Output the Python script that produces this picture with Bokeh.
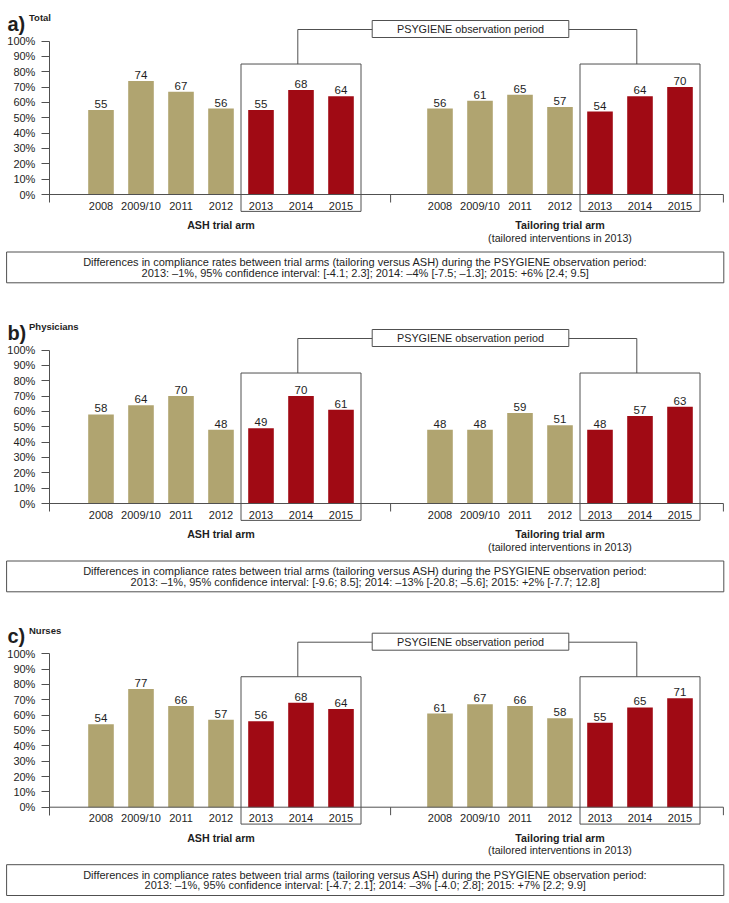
from bokeh.plotting import figure
from bokeh.models import Range1d, LinearAxis, FixedTicker, PrintfTickFormatter, ColumnDataSource
from bokeh.layouts import column
from bokeh.embed import file_html
from bokeh.resources import INLINE
from bokeh.core.properties import value

# ---------------- data ----------------
years = ["2008", "2009/10", "2011", "2012", "2013", "2014", "2015"]
obs_period = [False, False, False, False, True, True, True]

panel_letters = ["a)", "b)", "c)"]
panel_titles = ["Total", "Physicians", "Nurses"]

ash_total = [55, 74, 67, 56, 55, 68, 64]
tail_total = [56, 61, 65, 57, 54, 64, 70]
ash_phys = [58, 64, 70, 48, 49, 70, 61]
tail_phys = [48, 48, 59, 51, 48, 57, 63]
ash_nurse = [54, 77, 66, 57, 56, 68, 64]
tail_nurse = [61, 67, 66, 58, 55, 65, 71]

y_ticks = [0, 10, 20, 30, 40, 50, 60, 70, 80, 90, 100]

arm_labels = ["ASH trial arm", "Tailoring trial arm"]
arm_note = "(tailored interventions in 2013)"
obs_label = "PSYGIENE observation period"
diff_head = ("Differences in compliance rates between trial arms (tailoring versus ASH) "
             "during the PSYGIENE observation period:")
diff_total = "2013: \u20131%, 95% confidence interval: [-4.1; 2.3]; 2014: \u20134% [-7.5; \u20131.3]; 2015: +6% [2.4; 9.5]"
diff_phys = "2013: \u20131%, 95% confidence interval: [-9.6; 8.5]; 2014: \u201313% [-20.8; \u20135.6]; 2015: +2% [-7.7; 12.8]"
diff_nurse = "2013: \u20131%, 95% confidence interval: [-4.7; 2.1]; 2014: \u20133% [-4.0; 2.8]; 2015: +7% [2.2; 9.9]"

# ---------------- style / layout ----------------
FONT = "Liberation Sans"
TAN = "#B0A470"
RED = "#A00A14"
LINE = "#505050"
TXT = "#1e1e1e"
S = 1.535            # pixels per percent point
ARM_OFFSET = 8.475   # x shift of second arm (category units)
Y_AXIS_X = -1.29
MID_TICK_X = 7.24
RIGHT_END_X = 15.56
BOX_L, BOX_R = -2.36, 15.57
W = 729


def d(px):
    return px / S


def make_panel(letter, title, ash, tail, diff2, h, z):
    p = figure(width=W, height=h, x_range=Range1d(-2.5125, 15.7125),
               y_range=Range1d(-(h - z) / S, z / S),
               output_backend="svg", toolbar_location=None,
               x_axis_type=None, y_axis_type=None, min_border=0)
    p.outline_line_color = None
    p.background_fill_color = "white"

    xs = [i for i in range(len(years))] + [i + ARM_OFFSET for i in range(len(years))]
    tops = list(ash) + list(tail)
    cols = [RED if o else TAN for o in obs_period] * 2
    src = ColumnDataSource(dict(x=xs, top=tops, color=cols,
                                label=[str(v) for v in tops], year=years * 2))

    # observation-period boxes
    for off in (0, ARM_OFFSET):
        p.quad(left=3.5 + off, right=6.5 + off, top=85, bottom=-11,
               fill_color=None, line_color=LINE, line_width=1)

    p.vbar(x="x", top="top", bottom=0, width=0.64, fill_color="color",
           line_color=None, source=src)
    p.text(x="x", y="top", text="label", source=src, text_align="center",
           text_baseline="alphabetic", y_offset=-6, text_font_size="11.5px",
           text_font=value(FONT), text_color=TXT)
    p.text(x="x", y=0, text="year", source=src, text_align="center",
           text_baseline="middle", y_offset=11, text_font_size="11px",
           text_font=value(FONT), text_color=TXT)

    # x axis line with ticks
    p.segment(x0=[Y_AXIS_X, MID_TICK_X, RIGHT_END_X], y0=[0, 0, 0],
              x1=[RIGHT_END_X, MID_TICK_X, RIGHT_END_X], y1=[0, -d(8), -d(8)],
              line_color=LINE, line_width=1)

    # y axis
    ax = LinearAxis(fixed_location=Y_AXIS_X, ticker=FixedTicker(ticks=y_ticks),
                    formatter=PrintfTickFormatter(format="%d%%"))
    ax.bounds = (-d(8), 100)
    ax.axis_line_color = LINE
    ax.major_tick_line_color = LINE
    ax.major_tick_out = 8
    ax.major_tick_in = 0
    ax.minor_tick_out = 0
    ax.minor_tick_in = 0
    ax.major_label_standoff = 6
    ax.major_label_text_font = FONT
    ax.major_label_text_font_size = "11px"
    ax.major_label_text_color = TXT
    p.add_layout(ax, "left")

    # arm labels
    p.text(x=[3, 3 + ARM_OFFSET], y=[0, 0], text=arm_labels, text_align="center",
           text_baseline="middle", y_offset=30.5, text_font_size="10.7px",
           text_font_style="bold", text_font=value(FONT), text_color=TXT)
    p.text(x=[3 + ARM_OFFSET], y=[0], text=[arm_note], text_align="center",
           text_baseline="middle", y_offset=43, text_font_size="10.7px",
           text_font=value(FONT), text_color=TXT)

    # observation period label + connectors
    lb_l, lb_r = 6.78, 11.695
    p.quad(left=lb_l, right=lb_r, top=d(174), bottom=d(157),
           fill_color="white", line_color=LINE, line_width=1)
    p.text(x=[(lb_l + lb_r) / 2], y=[d(165.5)], text=[obs_label], text_align="center",
           text_baseline="middle", text_font_size="10.8px",
           text_font=value(FONT), text_color=TXT)
    p.line(x=[4.92, 4.92, lb_l], y=[85, d(165), d(165)], line_color=LINE, line_width=1)
    p.line(x=[lb_r, 4.92 + ARM_OFFSET, 4.92 + ARM_OFFSET], y=[d(165), d(165), 85],
           line_color=LINE, line_width=1)

    # panel title
    p.text(x=[-2.34], y=[d(171)], text=[letter], text_align="left",
           text_baseline="alphabetic", text_font_size="20px", text_font_style="bold",
           text_font=value(FONT), text_color=TXT)
    p.text(x=[-1.8], y=[d(177)], text=[title], text_align="left",
           text_baseline="alphabetic", text_font_size="9.5px", text_font_style="bold",
           text_font=value(FONT), text_color=TXT)

    # differences box
    p.quad(left=BOX_L, right=BOX_R, top=-d(57.5), bottom=-d(88.3),
           fill_color=None, line_color=LINE, line_width=1)
    p.text(x=[(BOX_L + BOX_R) / 2] * 2, y=[-d(67.3), -d(78)], text=[diff_head, diff2],
           text_align="center", text_baseline="middle", text_font_size="11px",
           text_font=value(FONT), text_color=TXT)
    return p


pa = make_panel(panel_letters[0], panel_titles[0], ash_total, tail_total, diff_total, 310, 194)
pb = make_panel(panel_letters[1], panel_titles[1], ash_phys, tail_phys, diff_phys, 302, 193)
pc = make_panel(panel_letters[2], panel_titles[2], ash_nurse, tail_nurse, diff_nurse, 291, 194.7)

layout = column(pa, pb, pc, spacing=0)
open("out.html", "w").write(file_html(layout, INLINE))
